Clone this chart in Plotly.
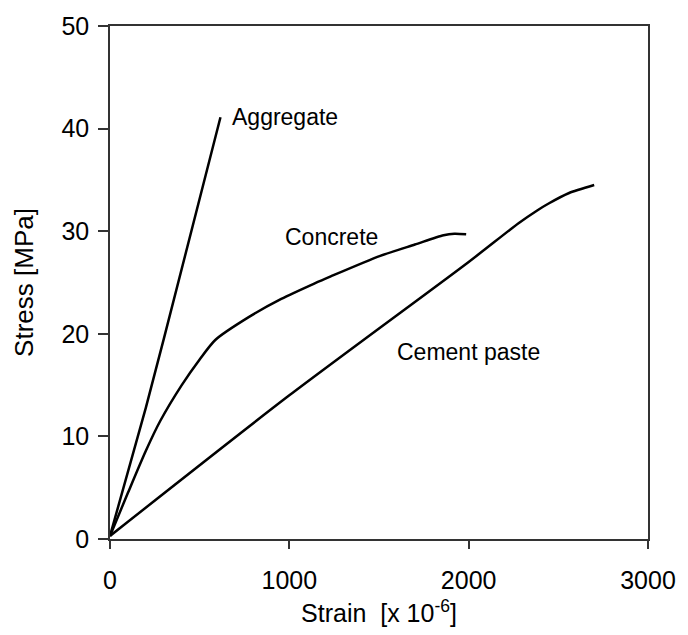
import plotly.graph_objects as go

# Data (strain in 1e-6, stress in MPa)
aggregate_strain = [0, 200, 300, 467, 616]
aggregate_stress = [0.3, 12.8, 19.5, 31.0, 41.1]

concrete_strain = [0, 100, 200, 280, 400, 500, 587, 771, 955, 1139, 1231, 1507, 1700, 1860, 1920, 1986]
concrete_stress = [0.3, 4.5, 8.6, 11.5, 15.0, 17.5, 19.4, 21.6, 23.4, 24.9, 25.6, 27.6, 28.7, 29.6, 29.75, 29.7]

paste_strain = [0, 1000, 2000, 2280, 2380, 2446, 2557, 2700]
paste_stress = [0.3, 14.0, 27.0, 30.8, 32.0, 32.7, 33.7, 34.5]

labels = ["Aggregate", "Concrete", "Cement paste"]
label_x = [670, 964, 1588]
label_y = [41.1, 29.4, 18.2]

x_ticks = [0, 1000, 2000, 3000]
y_ticks = [0, 10, 20, 30, 40, 50]

FONT = "Liberation Sans, Arial, sans-serif"

fig = go.Figure()
for xs, ys, shape in [(aggregate_strain, aggregate_stress, "linear"),
                      (concrete_strain, concrete_stress, "spline"),
                      (paste_strain, paste_stress, "spline")]:
    fig.add_trace(go.Scatter(x=xs, y=ys, mode="lines",
                             line=dict(color="black", width=2.5, shape=shape, smoothing=0.7),
                             showlegend=False, hoverinfo="skip"))

for t, x, y in zip(labels, label_x, label_y):
    fig.add_annotation(x=x, y=y, text=t, showarrow=False, xanchor="left",
                       yanchor="middle", font=dict(family=FONT, size=23, color="black"))

fig.update_layout(
    width=688, height=635,
    margin=dict(l=110, r=28, t=26, b=95),
    paper_bgcolor="white", plot_bgcolor="white",
    font=dict(family=FONT, color="black"),
)
fig.update_xaxes(
    range=[0, 3000], tickvals=x_ticks, ticktext=[str(v) for v in x_ticks],
    showgrid=False, zeroline=False, showline=True, mirror=True,
    linecolor="#333", linewidth=1.5, ticks="outside", ticklen=8, tickwidth=1.5,
    tickcolor="#333", tickfont=dict(family=FONT, size=25, color="black"),
    ticklabelstandoff=10,
    title=dict(text="Strain\u00a0\u00a0[x 10<sup>-6</sup>]", font=dict(family=FONT, size=25, color="black"), standoff=12),
)
fig.update_yaxes(
    range=[0, 50], tickvals=y_ticks, ticktext=[str(v) for v in y_ticks],
    showgrid=False, zeroline=False, showline=True, mirror=True,
    linecolor="#333", linewidth=1.5, ticks="outside", ticklen=10, tickwidth=1.5,
    tickcolor="#333", tickfont=dict(family=FONT, size=25, color="black"),
    ticklabelstandoff=4,
    title=dict(text="Stress [MPa]", font=dict(family=FONT, size=26, color="black"), standoff=20),
)

fig.write_html("out.html", config={"displayModeBar": False},
               post_script="document.body.style.margin='0px';")
